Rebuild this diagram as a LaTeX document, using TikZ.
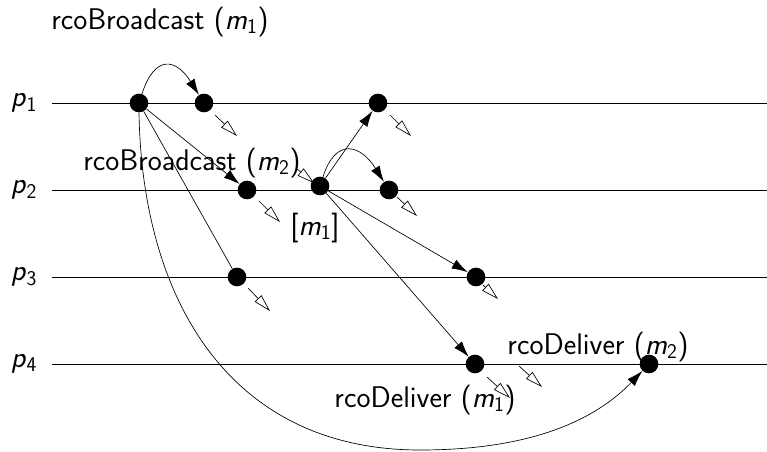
\documentclass[tikz,border=0pt]{standalone}
\usetikzlibrary{arrows.meta}
\begin{document}
\begin{tikzpicture}[x=0.75pt,y=-0.75pt,
  dot/.style={circle,fill=black,inner sep=0pt,minimum size=14pt},
  lbl/.style={inner sep=0pt,font=\fontsize{22.4}{26}\sffamily},
  proc/.style={line width=0.6pt},
  msg/.style={line width=0.5pt,-{Latex[length=12pt,width=7.5pt]}},
  plain/.style={line width=0.5pt},
  hol/.style={line width=0.5pt,-{Triangle[open,length=13pt,width=7pt]}}]
\useasboundingbox (0,0) rectangle (767,451);
\newcommand{\mm}[1]{\textsl{m}\textsubscript{#1}}
\newcommand{\pp}[1]{\textsl{p}\textsubscript{#1}}
% process lines
\foreach \i/\y in {1/103,2/190,3/277,4/364}{
  \coordinate (s\i) at (52,\y);
  \coordinate (e\i) at (767,\y);
  \draw[proc] (s\i) -- (e\i);
  \node[lbl] (p\i) at (24,\y) {\pp{\i}};
}
% events
\node[dot] (A) at (139,103) {};
\node[dot] (B) at (204,103) {};
\node[dot] (C) at (378,103) {};
\node[dot] (D) at (247,190) {};
\node[dot] (E) at (320,186) {};
\node[dot] (F) at (389,190) {};
\node[dot] (G) at (237,277) {};
\node[dot] (H) at (476,277) {};
\node[dot] (I) at (475,364) {};
\node[dot] (J) at (649,364) {};
% labels
\node[lbl] (l1) at (160,22) {rcoBroadcast (\mm{1})};
\node[lbl] (l2) at (192,163) {rcoBroadcast (\mm{2})};
\node[lbl] (l3) at (315,228) {[\mm{1}]};
\node[lbl] (l4) at (598,347) {rcoDeliver (\mm{2})};
\node[lbl] (l5) at (425,400) {rcoDeliver (\mm{1})};
% messages
\draw[msg] (A) to[out=72,in=122,looseness=1.9] (B);
\draw[msg] (A) -- (D);
\draw[plain] (A) -- (G);
\draw[msg] (A.south) .. controls (142,300) and (230,450) .. (420,450)
  .. controls (540,450) and (600,415) .. (J);
\draw[msg] (E) -- (C);
\draw[msg] (E) to[out=72,in=122,looseness=1.8] (F);
\draw[msg] (E) -- (H);
\draw[msg] (E) -- (I);
% hollow arrows
\draw[hol] ([shift={(11,12)}]B.center) -- ++(22,21);
\draw[hol] ([shift={(12,12)}]C.center) -- ++(21,21);
\draw[hol] ([shift={(12,11)}]D.center) -- ++(21,21);
\draw[hol] ([shift={(11,11)}]G.center) -- ++(22,23);
\draw[hol] ([shift={(8,7)}]F.center) -- ++(20,19);
\draw[hol] ([shift={(7,8)}]H.center) -- ++(15,14);
\draw[hol] ([shift={(12,13)}]I.center) -- ++(23,21);
\coordinate (k) at (519,366);
\draw[hol] (k) -- ++(23,21);
\coordinate (q) at (297,169);
\draw[hol] (q) -- ++(17,14);
\end{tikzpicture}
\end{document}
